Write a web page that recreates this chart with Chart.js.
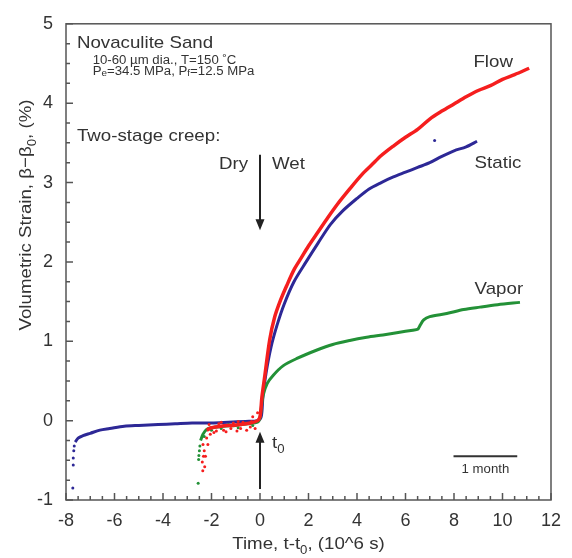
<!DOCTYPE html>
<html>
<head>
<meta charset="utf-8">
<script src="https://cdn.jsdelivr.net/npm/chart.js@4.4.0/dist/chart.umd.min.js"></script>
<style>
  html, body { margin: 0; padding: 0; background: #fff; }
</style>
</head>
<body>
<canvas id="creep-chart" width="572" height="558"></canvas>
<script>
// Time is t - t0 in 10^6 s, strain is beta - beta0 in %
const staticTime = [-7.62, -7.5, -7.3, -7.0, -6.6, -6.2, -5.6, -5.0, -4.2, -3.5, -2.8, -2.0, -1.3, -0.6, -0.1,
  0.05, 0.12, 0.25, 0.45, 0.7, 1.0, 1.4, 1.9, 2.4, 2.9, 3.4, 4.0, 4.5, 5.0, 5.5, 6.0, 6.5, 7.0, 7.5, 8.0, 8.5, 8.95];
const staticStrain = [-0.27, -0.22, -0.19, -0.16, -0.12, -0.10, -0.07, -0.06, -0.05, -0.04, -0.03, -0.03, -0.02, -0.01, 0.0,
  0.05, 0.3, 0.6, 0.92, 1.2, 1.47, 1.75, 2.0, 2.24, 2.47, 2.64, 2.8, 2.92, 3.0, 3.07, 3.13, 3.19, 3.25, 3.33, 3.4, 3.45, 3.52];
const staticLooseTime = [-7.72, -7.7, -7.7, -7.68, -7.66, 7.2];
const staticLooseStrain = [-0.85, -0.56, -0.47, -0.38, -0.32, 3.53];

const flowTime = [-2.2, -2.0, -1.6, -1.2, -0.8, -0.4, -0.1, 0.0, 0.08, 0.2, 0.4, 0.6, 0.85, 1.1, 1.4, 1.7, 2.0, 2.4, 2.8,
  3.2, 3.7, 4.2, 4.6, 5.0, 5.5, 6.0, 6.5, 7.0, 7.5, 8.0, 8.5, 9.0, 9.5, 10.0, 10.5, 11.1];
const flowStrain = [-0.12, -0.09, -0.07, -0.06, -0.05, -0.03, 0.0, 0.05, 0.3, 0.57, 1.02, 1.3, 1.52, 1.7, 1.9, 2.05, 2.2, 2.38, 2.56,
  2.73, 2.92, 3.1, 3.22, 3.34, 3.46, 3.57, 3.67, 3.8, 3.9, 3.99, 4.08, 4.16, 4.22, 4.3, 4.36, 4.44];
const flowLooseTime = [-2.36, -2.38, -2.33, -2.3, -2.35, -2.28, -2.25, -2.2, -2.15, -2.1, -2.05, -1.9, -1.8, -1.7, -1.5, -1.4,
  -1.2, -1.1, -0.95, -0.8, -0.7, -0.55, -0.4, -0.35, -0.3, -0.2, -0.1, -1.6, -0.9];
const flowLooseStrain = [-0.63, -0.52, -0.45, -0.38, -0.3, -0.58, -0.45, -0.22, -0.3, -0.05, -0.17, -0.15, -0.13, -0.04, -0.12, -0.14,
  -0.1, -0.03, -0.13, -0.1, -0.02, -0.12, -0.08, -0.01, 0.05, -0.1, 0.1, -0.02, -0.01];

const vaporTime = [-2.45, -2.35, -2.2, -2.0, -1.5, -1.0, -0.5, -0.1, 0.0, 0.06, 0.14, 0.3, 0.54, 0.95, 1.5, 2.35, 3.0, 3.7,
  4.4, 5.07, 5.7, 6.3, 6.5, 6.6, 6.75, 7.0, 7.7, 8.4, 9.07, 9.8, 10.72];
const vaporStrain = [-0.25, -0.17, -0.11, -0.09, -0.07, -0.06, -0.04, -0.02, 0.03, 0.18, 0.33, 0.47, 0.57, 0.69, 0.78, 0.89, 0.96, 1.01,
  1.05, 1.08, 1.11, 1.14, 1.15, 1.2, 1.27, 1.31, 1.35, 1.4, 1.43, 1.46, 1.49];
const vaporLooseTime = [-2.55, -2.53, -2.52, -2.5, -2.48, -2.3, -2.0, -1.6, -1.3, -0.9, -0.6, -0.3];
const vaporLooseStrain = [-0.79, -0.49, -0.44, -0.38, -0.32, -0.2, -0.12, -0.1, -0.05, -0.09, -0.03, -0.06];

// Axis ranges and tick steps
const timeRange = [-8, 12];
const strainRange = [-1, 5];
const timeMajorStep = 2, timeMinorStep = 0.5;
const strainMajorStep = 1, strainMinorStep = 0.25;
const MONTH = 2.628; // one month in 10^6 s

const FONT = '"Liberation Sans", Arial, Helvetica, sans-serif';
const TEXT_COLOR = '#333';
const AXIS_COLOR = '#555';
const STRETCH = 1.1;

function toPoints(xs, ys) {
  return xs.map((x, i) => ({ x: x, y: ys[i] }));
}

// Draw a row of text pieces; pieces flagged sub are drawn smaller and lower
function drawRuns(ctx, runs, px, py, size, align, angle, subDrop) {
  const drop = subDrop === undefined ? 0.28 : subDrop;
  ctx.save();
  ctx.translate(px, py);
  if (angle) ctx.rotate(angle);
  ctx.scale(STRETCH, 1);
  ctx.fillStyle = TEXT_COLOR;
  ctx.textBaseline = 'alphabetic';
  ctx.textAlign = 'left';
  let total = 0;
  runs.forEach(r => {
    ctx.font = (r.sub ? Math.round(size * 0.72) : size) + 'px ' + FONT;
    r.w = ctx.measureText(r.t).width;
    total += r.w;
  });
  let cx = align === 'center' ? -total / 2 : align === 'right' ? -total : 0;
  runs.forEach(r => {
    ctx.font = (r.sub ? Math.round(size * 0.72) : size) + 'px ' + FONT;
    ctx.fillText(r.t, cx, r.sub ? size * drop : 0);
    cx += r.w;
  });
  ctx.restore();
}

function drawText(ctx, str, px, py, size, align) {
  drawRuns(ctx, [{ t: str }], px, py, size, align);
}

function drawArrow(ctx, x, yFrom, yTo) {
  const dir = yTo > yFrom ? 1 : -1;
  ctx.save();
  ctx.strokeStyle = '#222';
  ctx.fillStyle = '#222';
  ctx.lineWidth = 2;
  ctx.beginPath();
  ctx.moveTo(x, yFrom);
  ctx.lineTo(x, yTo - dir * 9);
  ctx.stroke();
  ctx.beginPath();
  ctx.moveTo(x, yTo);
  ctx.lineTo(x - 4.5, yTo - dir * 11);
  ctx.lineTo(x + 4.5, yTo - dir * 11);
  ctx.closePath();
  ctx.fill();
  ctx.restore();
}

function tickValues(min, max, step) {
  const out = [];
  const n = Math.round((max - min) / step);
  for (let i = 0; i <= n; i++) out.push(min + i * step);
  return out;
}

// Frame, inward tick marks and all labels drawn over the plot
const creepDecor = {
  id: 'creepDecor',
  afterDraw(chart) {
    const { ctx, chartArea: a, scales: { x, y } } = chart;

    ctx.save();
    ctx.strokeStyle = AXIS_COLOR;
    ctx.lineWidth = 1.5;
    ctx.strokeRect(a.left, a.top, a.right - a.left, a.bottom - a.top);

    ctx.beginPath();
    tickValues(timeRange[0], timeRange[1], timeMinorStep).forEach(v => {
      const px = x.getPixelForValue(v);
      const len = Math.abs(v % timeMajorStep) < 1e-9 ? 7 : 4;
      ctx.moveTo(px, a.bottom);
      ctx.lineTo(px, a.bottom - len);
    });
    tickValues(strainRange[0], strainRange[1], strainMinorStep).forEach(v => {
      const py = y.getPixelForValue(v);
      const len = Math.abs(v % strainMajorStep) < 1e-9 ? 7 : 4;
      ctx.moveTo(a.left, py);
      ctx.lineTo(a.left + len, py);
    });
    ctx.stroke();
    ctx.restore();

    // Axis titles
    drawRuns(ctx, [{ t: 'Time, t-t' }, { t: '0', sub: true }, { t: ', (10^6 s)' }],
      (a.left + a.right) / 2, 549, 17, 'center');
    drawRuns(ctx, [{ t: 'Volumetric Strain, \u03b2\u2212\u03b2' }, { t: '0', sub: true }, { t: ', (%)' }],
      31, 215, 17, 'center', -Math.PI / 2);

    // Sample description
    drawText(ctx, 'Novaculite Sand', x.getPixelForValue(-7.55), y.getPixelForValue(4.7), 17);
    drawText(ctx, '10-60 \u00b5m dia., T=150 \u02daC', x.getPixelForValue(-6.9), y.getPixelForValue(4.49), 12);
    drawRuns(ctx, [{ t: 'P' }, { t: 'e', sub: true }, { t: '=34.5 MPa, P' }, { t: 'f', sub: true }, { t: '=12.5 MPa' }],
      x.getPixelForValue(-6.9), y.getPixelForValue(4.36), 12, 'left', 0, 0.15);
    drawText(ctx, 'Two-stage creep:', x.getPixelForValue(-7.55), y.getPixelForValue(3.52), 17);

    // Switch from dry to wet at t0
    const x0 = x.getPixelForValue(0);
    drawArrow(ctx, x0, y.getPixelForValue(3.35), y.getPixelForValue(2.4));
    drawText(ctx, 'Dry', x0 - 12, y.getPixelForValue(3.17), 17, 'right');
    drawText(ctx, 'Wet', x0 + 12, y.getPixelForValue(3.17), 17);
    drawArrow(ctx, x0, y.getPixelForValue(-0.86), y.getPixelForValue(-0.14));
    drawRuns(ctx, [{ t: 't' }, { t: '0', sub: true }], x0 + 12, y.getPixelForValue(-0.35), 17);

    // Series names
    drawText(ctx, 'Flow', x.getPixelForValue(8.8), y.getPixelForValue(4.45), 17);
    drawText(ctx, 'Static', x.getPixelForValue(8.85), y.getPixelForValue(3.18), 17);
    drawText(ctx, 'Vapor', x.getPixelForValue(8.85), y.getPixelForValue(1.6), 17);

    // One-month scale bar
    const barStart = 7.98;
    const bx1 = x.getPixelForValue(barStart);
    const bx2 = x.getPixelForValue(barStart + MONTH);
    const by = y.getPixelForValue(-0.45);
    ctx.save();
    ctx.strokeStyle = '#333';
    ctx.lineWidth = 2;
    ctx.beginPath();
    ctx.moveTo(bx1, by);
    ctx.lineTo(bx2, by);
    ctx.stroke();
    ctx.restore();
    drawText(ctx, '1 month', (bx1 + bx2) / 2, by + 17, 12, 'center');
  }
};

const RED = 'rgb(245, 30, 30)';
const BLUE = 'rgb(45, 40, 150)';
const GREEN = 'rgb(35, 145, 55)';

function curve(xs, ys, color, order, width) {
  return {
    data: toPoints(xs, ys),
    showLine: true,
    borderColor: color,
    borderWidth: width,
    tension: 0.3,
    pointRadius: 0,
    order: order
  };
}

function loose(xs, ys, color, order) {
  return {
    data: toPoints(xs, ys),
    showLine: false,
    pointRadius: 1.5,
    pointBorderWidth: 0,
    backgroundColor: color,
    order: order
  };
}

new Chart(document.getElementById('creep-chart'), {
  type: 'scatter',
  data: {
    datasets: [
      curve(flowTime, flowStrain, RED, 1, 3.5),
      loose(flowLooseTime, flowLooseStrain, RED, 1),
      curve(vaporTime, vaporStrain, GREEN, 2, 3),
      loose(vaporLooseTime, vaporLooseStrain, GREEN, 2),
      curve(staticTime, staticStrain, BLUE, 3, 3),
      loose(staticLooseTime, staticLooseStrain, BLUE, 3)
    ]
  },
  options: {
    responsive: false,
    animation: false,
    devicePixelRatio: 1,
    layout: { padding: { top: 15, right: 21, left: 0, bottom: 0 } },
    plugins: {
      legend: { display: false },
      tooltip: { enabled: false }
    },
    scales: {
      x: {
        type: 'linear',
        min: timeRange[0],
        max: timeRange[1],
        border: { display: false },
        grid: { display: false, drawTicks: false },
        ticks: {
          stepSize: timeMajorStep,
          padding: 10,
          color: TEXT_COLOR,
          font: { family: FONT, size: 18 }
        },
        afterFit(scale) { scale.height = 58; }
      },
      y: {
        type: 'linear',
        min: strainRange[0],
        max: strainRange[1],
        border: { display: false },
        grid: { display: false, drawTicks: false },
        ticks: {
          stepSize: strainMajorStep,
          padding: 13,
          color: TEXT_COLOR,
          font: { family: FONT, size: 18 }
        },
        afterFit(scale) { scale.width = 66; }
      }
    }
  },
  plugins: [creepDecor]
});
</script>
</body>
</html>
